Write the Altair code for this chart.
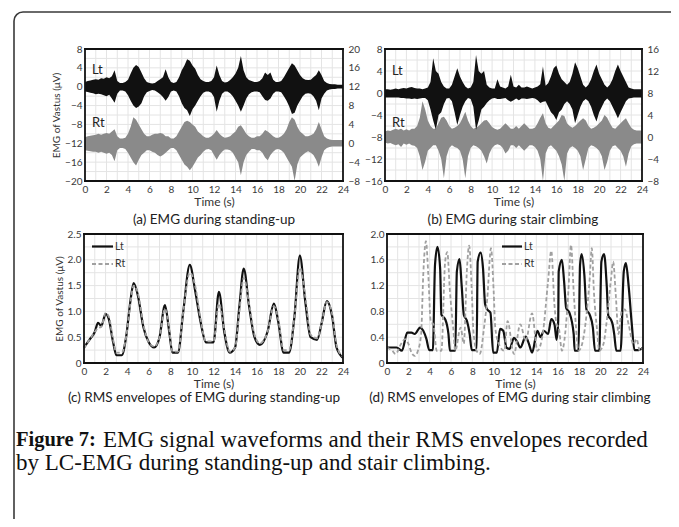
import altair as alt
import pandas as pd

W, H = 663, 511
SANS = "Lato"
SERIF = "Liberation Serif"
GRID = "#e4e4e4"
LT_COLOR = "#111111"
RT_COLOR = "#8a8a8a"

# ---------------- data ----------------
T_RAW = [0, 0.25, 0.5, 0.75, 1, 1.25, 1.5, 1.75, 2, 2.25, 2.5, 2.75,
         3, 3.25, 3.5, 3.75, 4, 4.25, 4.5, 4.75, 5, 5.25, 5.5, 5.75,
         6, 6.25, 6.5, 6.75, 7, 7.25, 7.5, 7.75, 8, 8.25, 8.5, 8.75,
         9, 9.25, 9.5, 9.75, 10, 10.25, 10.5, 10.75, 11, 11.25, 11.5, 11.75,
         12, 12.25, 12.5, 12.75, 13, 13.25, 13.5, 13.75, 14, 14.25, 14.5, 14.75,
         15, 15.25, 15.5, 15.75, 16, 16.25, 16.5, 16.75, 17, 17.25, 17.5, 17.75,
         18, 18.25, 18.5, 18.75, 19, 19.25, 19.5, 19.75, 20, 20.25, 20.5, 20.75,
         21, 21.25, 21.5, 21.75, 22, 22.25, 22.5, 22.75, 23, 23.25, 23.5, 23.75, 24]

# (a) standing-up, raw EMG envelope (left axis, Lt) -- upper / lower
A_LT_HI = [1.0, 1.2, 1.3, 1.5, 1.6, 1.5, 1.8, 1.7, 2.0, 1.8, 2.2, 3.5,
           1.2, 0.8, 0.8, 1.0, 1.5, 2.8, 4.0, 4.6, 4.2, 3.0, 1.8, 1.0,
           0.8, 0.7, 0.8, 1.2, 1.6, 2.0, 3.7, 2.0, 1.0, 0.8, 1.0, 2.0,
           3.5, 4.5, 5.8, 5.5, 4.5, 3.8, 2.5, 1.6, 1.2, 1.0, 1.0, 1.2,
           2.0, 4.5, 2.5, 1.2, 0.9, 1.0, 1.4, 2.0, 2.8, 4.0, 6.5, 3.5,
           2.0, 1.4, 1.2, 1.0, 1.0, 1.2, 1.8, 3.0, 2.5, 3.0, 1.5, 1.0,
           1.0, 1.2, 2.0, 3.0, 4.0, 5.0, 4.5, 3.5, 2.5, 1.8, 1.5, 1.4,
           1.5, 2.0, 2.5, 3.5, 2.5, 1.2, 0.8, 0.6, 0.5, 0.5, 0.4, 0.4, 0.4]
A_LT_LO = [-1.0, -1.1, -1.3, -1.4, -1.6, -1.5, -1.6, -1.8, -2.0, -1.7, -2.5, -3.4,
           -1.5, -0.8, -0.8, -1.0, -1.8, -3.0, -4.0, -4.5, -4.2, -3.5, -2.0, -1.2,
           -0.9, -0.7, -0.8, -1.2, -1.6, -2.2, -3.0, -2.2, -1.0, -0.8, -1.0, -2.0,
           -3.5, -4.5, -5.0, -6.2, -4.8, -4.0, -3.0, -2.0, -1.3, -1.0, -1.0, -1.3,
           -2.2, -5.3, -3.0, -1.5, -1.0, -1.0, -1.4, -2.0, -3.0, -4.0, -5.3, -4.0,
           -2.5, -1.6, -1.2, -1.0, -1.0, -1.2, -2.0, -2.8, -3.0, -2.5, -1.5, -1.0,
           -1.0, -1.2, -2.0, -3.0, -4.2, -5.8, -5.5, -4.0, -3.0, -2.0, -1.5, -1.4,
           -1.5, -2.0, -3.0, -5.0, -2.5, -1.5, -0.8, -0.6, -0.5, -0.5, -0.4, -0.4, -0.4]
# (a) Rt on the right axis
A_RT_HI = [1.3, 1.5, 1.6, 1.7, 1.8, 2.0, 1.8, 2.0, 2.2, 2.0, 2.5, 3.0,
           1.5, 1.0, 1.0, 1.2, 2.0, 3.5, 5.5, 5.0, 4.0, 3.0, 2.0, 1.5,
           1.5, 1.8, 2.0, 2.0, 2.2, 2.0, 1.5, 1.5, 1.0, 1.0, 1.5, 2.5,
           3.5, 4.5, 4.8, 4.5, 4.0, 3.5, 2.5, 2.0, 1.5, 1.2, 1.2, 1.5,
           2.0, 2.8, 2.0, 1.5, 1.2, 1.3, 1.5, 2.0, 2.5, 3.5, 3.8, 3.0,
           2.0, 1.5, 1.2, 1.2, 1.5, 1.5, 2.0, 2.8, 2.5, 2.0, 1.5, 1.2,
           1.2, 1.5, 2.0, 3.0, 4.5, 5.5, 5.0, 3.5, 2.5, 2.0, 1.5, 1.5,
           1.7, 2.0, 3.0, 4.5, 3.0, 1.5, 1.0, 0.8, 0.7, 0.7, 0.7, 0.7, 0.7]
A_RT_LO = [-1.5, -1.6, -1.7, -1.8, -1.8, -2.0, -1.8, -2.0, -2.2, -2.0, -2.5, -3.8,
           -1.5, -1.0, -1.0, -1.2, -2.0, -3.0, -4.0, -4.7, -3.5, -2.5, -2.0, -1.5,
           -1.5, -1.8, -2.0, -2.5, -2.8, -2.5, -2.0, -1.5, -1.0, -1.0, -1.5, -2.5,
           -3.5, -4.5, -5.0, -5.7, -5.0, -4.0, -3.0, -2.5, -1.8, -1.3, -1.2, -1.5,
           -2.5, -3.5, -2.5, -1.8, -1.3, -1.3, -1.5, -2.0, -3.0, -4.0, -6.8, -4.0,
           -2.5, -1.8, -1.2, -1.2, -1.5, -1.5, -2.0, -3.0, -3.6, -2.5, -1.8, -1.3,
           -1.2, -1.5, -2.0, -3.0, -4.0, -5.0, -8.0, -4.5, -3.0, -2.5, -2.0, -1.7,
           -2.0, -2.5, -3.5, -5.0, -3.0, -1.5, -1.0, -0.8, -0.7, -0.7, -0.7, -0.7, -0.7]

# (b) stair climbing, raw EMG envelope
B_LT_HI = [0.7, 0.7, 0.6, 0.7, 0.8, 0.7, 0.8, 0.9, 0.8, 1.0, 1.1, 0.9,
           0.8, 0.8, 0.7, 0.8, 1.0, 2.0, 6.3, 4.0, 3.5, 2.0, 1.2, 0.8,
           0.8, 1.5, 3.0, 4.5, 3.0, 2.0, 1.2, 0.8, 1.0, 2.0, 6.9, 4.0,
           3.5, 4.0, 1.5, 1.0, 0.8, 0.8, 2.5, 1.2, 1.0, 0.8, 1.2, 3.3,
           1.2, 1.0, 1.5, 1.0, 1.0, 1.2, 1.0, 0.8, 1.0, 1.2, 1.6, 4.8,
           1.3, 1.8, 3.0, 4.5, 5.0, 3.5, 2.5, 2.0, 1.5, 2.0, 3.5, 5.6,
           4.5, 3.0, 1.5, 1.0, 1.5, 2.5, 4.0, 5.2, 3.5, 2.5, 1.5, 1.0,
           1.5, 2.5, 4.0, 5.2, 4.0, 3.0, 2.0, 1.0, 0.8, 0.7, 0.7, 0.7, 0.7]
B_LT_LO = [-0.8, -0.8, -0.8, -0.8, -0.8, -0.8, -0.9, -0.9, -1.0, -1.0, -1.1, -1.0,
           -1.1, -1.0, -0.9, -0.9, -1.3, -3.0, -5.0, -6.7, -4.0, -3.5, -2.0, -1.0,
           -0.9, -1.5, -3.5, -5.8, -4.0, -2.5, -1.5, -0.9, -1.1, -2.5, -6.7, -5.0,
           -3.0, -2.5, -1.8, -1.3, -1.0, -0.9, -1.1, -1.1, -1.0, -0.9, -1.3, -1.6,
           -1.3, -1.0, -1.3, -1.0, -1.0, -1.1, -1.0, -0.9, -1.0, -1.3, -1.8, -1.6,
           -1.5, -2.5, -3.5, -4.0, -4.9, -3.5, -3.0, -2.0, -1.5, -2.0, -3.0, -5.5,
           -4.0, -2.5, -1.5, -1.1, -1.5, -2.5, -4.0, -5.2, -3.5, -2.5, -1.5, -1.0,
           -1.5, -2.5, -3.5, -4.6, -3.5, -2.5, -1.5, -1.0, -0.9, -0.8, -0.8, -0.8, -0.8]
B_RT_HI = [1.0, 1.2, 1.1, 1.3, 1.5, 1.3, 1.5, 1.2, 1.4, 1.2, 1.5, 1.5,
           2.0, 3.5, 6.5, 5.0, 3.0, 2.0, 1.5, 1.5, 2.5, 3.5, 3.7, 3.0,
           2.0, 1.5, 1.7, 2.0, 2.5, 3.5, 4.6, 3.0, 2.0, 1.5, 1.7, 2.0,
           2.5, 3.0, 3.1, 2.5, 1.8, 1.5, 1.3, 1.5, 2.0, 2.5, 2.0, 1.5,
           1.5, 2.0, 1.5, 2.0, 2.5, 2.0, 1.5, 1.5, 1.7, 2.5, 3.5, 4.3,
           2.5, 1.7, 1.5, 2.0, 2.5, 3.0, 4.0, 3.8, 2.5, 2.0, 1.7, 2.0,
           2.5, 3.0, 3.4, 3.0, 2.0, 1.5, 1.7, 2.0, 2.5, 3.0, 4.0, 3.5,
           2.5, 1.7, 1.5, 2.0, 2.5, 3.0, 3.4, 2.5, 1.7, 1.3, 1.2, 1.2, 1.2]
B_RT_LO = [-1.0, -1.2, -1.1, -1.3, -1.5, -1.3, -1.8, -1.2, -1.4, -1.2, -1.5, -1.6,
           -2.0, -3.5, -6.0, -4.5, -2.5, -2.0, -1.5, -1.5, -2.5, -4.0, -7.5, -3.5,
           -2.0, -1.5, -1.8, -2.0, -2.5, -4.0, -7.5, -3.5, -2.0, -1.5, -1.7, -2.0,
           -2.5, -3.5, -4.8, -3.0, -2.0, -1.5, -1.3, -1.5, -2.0, -3.0, -2.5, -1.5,
           -1.5, -2.0, -1.5, -2.0, -2.5, -2.0, -1.5, -1.5, -1.8, -2.5, -4.0, -8.0,
           -3.0, -1.8, -1.5, -2.0, -2.5, -3.5, -5.0, -8.0, -3.0, -2.0, -1.7, -2.0,
           -2.5, -3.5, -6.0, -4.0, -2.0, -1.5, -1.7, -2.0, -2.5, -3.5, -6.0, -4.5,
           -2.5, -1.7, -1.5, -2.0, -2.5, -3.5, -5.4, -3.0, -1.7, -1.3, -1.2, -1.2, -1.2]

# (c) RMS envelopes, standing-up
T_C = [0, 0.5, 1, 1.3, 1.6, 2, 2.3, 2.7, 3, 3.5, 3.9, 4.3, 4.6, 5, 5.5, 6, 6.5, 7, 7.5, 7.9,
       8.2, 8.7, 9.2, 9.8, 10.3, 10.8, 11.3, 12, 12.5, 13, 13.5, 14, 14.4, 14.8, 15.3, 15.8,
       16.3, 17, 17.6, 18, 18.5, 19, 19.5, 20, 20.5, 21, 21.6, 22, 22.5, 23, 23.4, 24]
C_LT = [0.3, 0.45, 0.6, 0.78, 0.72, 0.95, 0.85, 0.4, 0.15, 0.15, 0.5, 1.2, 1.55, 1.3, 0.7,
        0.4, 0.3, 0.5, 1.12, 0.6, 0.2, 0.2, 1.0, 1.9, 1.4, 0.8, 0.4, 0.4, 1.38, 0.6, 0.2,
        0.3, 1.1, 1.83, 1.1, 0.5, 0.35, 0.6, 1.15, 0.8, 0.2, 0.2, 0.9, 2.08, 1.2, 0.5, 0.45,
        0.75, 1.2, 0.9, 0.3, 0.1]
C_RT = [0.28, 0.45, 0.6, 0.68, 0.7, 0.97, 0.9, 0.45, 0.2, 0.2, 0.5, 1.15, 1.5, 1.35, 0.75,
        0.4, 0.32, 0.5, 1.05, 0.65, 0.22, 0.22, 1.0, 1.75, 1.5, 0.85, 0.42, 0.42, 1.15, 0.65,
        0.22, 0.3, 1.0, 1.65, 1.15, 0.55, 0.38, 0.6, 1.1, 0.85, 0.25, 0.25, 0.9, 1.85, 1.3,
        0.55, 0.48, 0.75, 1.18, 0.95, 0.35, 0.12]

# (d) RMS envelopes, stair climbing
T_D_LT = [0, 0.9, 1.4, 1.9, 2.3, 2.6, 3.1, 3.4, 3.7, 3.96, 4.3, 4.5, 4.73, 4.98, 5.1, 5.45,
          5.76, 5.9, 6.4, 6.55, 6.8, 7.0, 7.2, 7.5, 7.75, 7.95, 8.4, 8.5, 8.78, 9.0, 9.2, 9.4,
          9.7, 9.95, 10.3, 10.6, 10.9, 11.2, 11.5, 11.9, 12.2, 12.5, 13.0, 13.3, 13.6, 14.1,
          14.4, 14.7, 15.1, 15.4, 15.7, 15.9, 16.05, 16.1, 16.4, 16.6, 16.8, 17.1, 17.5, 17.6,
          17.95, 18.1, 18.25, 18.5, 18.7, 19.0, 19.3, 19.5, 19.9, 20.1, 20.35, 20.6, 20.75,
          20.97, 21.15, 21.3, 21.5, 21.9, 22.2, 22.4, 22.65, 22.95, 23.2, 23.6, 24]
D_LT = [0.24, 0.24, 0.19, 0.47, 0.47, 0.45, 0.55, 0.5, 0.37, 0.2, 0.2, 1.52, 1.8, 1.47, 0.75,
        0.68, 0.45, 0.19, 0.19, 1.42, 1.61, 1.2, 0.75, 0.65, 0.45, 0.2, 0.2, 1.57, 1.71, 1.47,
        0.91, 0.83, 0.78, 0.16, 0.16, 0.53, 0.5, 0.24, 0.22, 0.39, 0.33, 0.24, 0.41, 0.3, 0.16,
        0.5, 0.4, 0.5, 0.45, 0.68, 0.6, 0.36, 0.65, 1.42, 1.6, 1.27, 0.85, 0.78, 0.45, 0.19,
        0.19, 1.52, 1.69, 1.37, 0.83, 0.75, 0.55, 0.19, 0.19, 1.57, 1.69, 1.2, 0.73, 0.68, 0.6,
        0.45, 0.19, 0.19, 1.42, 1.55, 1.2, 0.6, 0.2, 0.2, 0.24]
T_D_RT = [0, 0.5, 0.8, 1.3, 1.7, 2.0, 2.3, 2.6, 2.9, 3.2, 3.4, 3.65, 3.87, 4.1, 4.35, 4.66,
          5.1, 5.45, 5.65, 5.9, 6.2, 6.4, 6.9, 7.2, 7.5, 7.7, 7.95, 8.1, 8.4, 8.7, 9.1, 9.4,
          9.75, 10.0, 10.15, 10.5, 11.0, 11.3, 11.9, 12.5, 13.0, 13.6, 14.1, 14.6, 15.1, 15.4,
          15.7, 15.9, 16.1, 16.4, 16.7, 17.0, 17.25, 17.5, 17.7, 17.95, 18.3, 18.6, 19.0, 19.2,
          19.4, 19.7, 19.9, 20.3, 20.6, 21.0, 21.2, 21.45, 21.7, 22.0, 22.3, 22.65, 23.1, 23.4,
          23.7, 24]
D_RT = [0.24, 0.19, 0.14, 0.29, 0.37, 0.3, 0.16, 0.11, 0.19, 0.45, 1.37, 1.89, 1.37, 0.65,
        0.6, 0.19, 0.19, 1.57, 1.72, 1.11, 0.55, 0.19, 0.55, 0.3, 1.47, 1.82, 1.11, 0.5, 0.19,
        0.14, 0.55, 1.0, 1.78, 1.11, 0.55, 0.29, 0.19, 0.65, 0.14, 0.6, 0.34, 0.77, 0.19, 0.45,
        1.27, 1.74, 0.9, 0.6, 0.55, 0.19, 0.45, 1.1, 1.83, 1.11, 0.6, 0.19, 0.3, 0.6, 1.3, 1.78,
        1.1, 0.5, 0.19, 0.3, 0.65, 1.3, 1.57, 1.05, 0.45, 0.8, 0.83, 0.6, 0.29, 0.37, 0.19, 0.24]

# tick values / grid
X_TICKS = [0, 2, 4, 6, 8, 10, 12, 14, 16, 18, 20, 22, 24]
X_GRID = [1, 2, 3, 4, 5, 6, 7, 8, 9, 10, 11, 12, 13, 14, 15, 16, 17, 18, 19, 20, 21, 22, 23]
A_LEFT_TICKS = [-20, -16, -12, -8, -4, 0, 4, 8]
A_RIGHT_TICKS = [-8, -4, 0, 4, 8, 12, 16, 20]
A_GRID = [-18, -16, -14, -12, -10, -8, -6, -4, -2, 0, 2, 4, 6]
B_LEFT_TICKS = [-16, -12, -8, -4, 0, 4, 8]
B_RIGHT_TICKS = [-8, -4, 0, 4, 8, 12, 16]
B_GRID = [-14, -12, -10, -8, -6, -4, -2, 0, 2, 4, 6]
C_TICKS = [0, 0.5, 1.0, 1.5, 2.0, 2.5]
C_GRID = [0.25, 0.5, 0.75, 1.0, 1.25, 1.5, 1.75, 2.0, 2.25]
D_TICKS = [0, 0.4, 0.8, 1.2, 1.6, 2.0]
D_GRID = [0.2, 0.4, 0.6, 0.8, 1.0, 1.2, 1.4, 1.6, 1.8]

Y_TITLE = "EMG of Vastus (\u03bcV)"
ONE_DEC = "datum.value == 0 ? '0' : format(datum.value, '.1f')"

# panel placement (pixels inside the chart)
PA = dict(xr=[77, 335], yr=[173, 41])
PB = dict(xr=[377, 634], yr=[173, 41])
PC = dict(xr=[76, 335], yr=[355, 226])
PD = dict(xr=[379, 635], yr=[355, 226])


def xscale(p):
    return alt.Scale(domain=[0, 24], range=p["xr"], nice=False, zero=False)


def yscale(p, dom):
    return alt.Scale(domain=dom, range=p["yr"], nice=False, zero=False)


def x_axis(p):
    return alt.Axis(orient="bottom", offset=p["yr"][0] - H, values=X_TICKS,
                    title="Time (s)", grid=False, domain=False, ticks=False,
                    labelFlush=False, labelOverlap=False, labelFont=SANS,
                    labelFontSize=10, labelColor="#3a3a3a", labelPadding=3,
                    titleFont=SANS, titleFontSize=12, titleFontWeight="normal",
                    titleColor="#333", titlePadding=2)


def y_axis(p, values, title=None, right=False, expr=None):
    kw = dict(values=values, grid=False, domain=False, ticks=False,
              labelFlush=False, labelOverlap=False, labelFont=SANS,
              labelFontSize=10, labelColor="#3a3a3a", labelPadding=3)
    if right:
        kw.update(orient="right", offset=p["xr"][1] - W, labelPadding=5)
    else:
        kw.update(orient="left", offset=-p["xr"][0])
    if title:
        kw.update(title=title, titleFont=SANS, titleFontSize=10,
                  titleFontWeight="normal", titleColor="#333", titlePadding=3)
    else:
        kw.update(title="")
    if expr:
        kw.update(labelExpr=expr)
    return alt.Axis(**kw)


def grid_and_frame(p, ydom, ygrid, yax):
    xs, ys = xscale(p), yscale(p, ydom)
    vdf = pd.DataFrame({"g": X_GRID, "lo": ydom[0], "hi": ydom[1]})
    hdf = pd.DataFrame({"g": ygrid, "lo": 0, "hi": 24})
    vgrid = alt.Chart(vdf).mark_rule(color=GRID, strokeWidth=1).encode(
        x=alt.X("g:Q", scale=xs, axis=None),
        y=alt.Y("lo:Q", scale=ys, axis=None), y2="hi:Q")
    hgrid = alt.Chart(hdf).mark_rule(color=GRID, strokeWidth=1).encode(
        y=alt.Y("g:Q", scale=ys, axis=None),
        x=alt.X("lo:Q", scale=xs, axis=None), x2="hi:Q")
    # frame: four edges drawn as rules through the panel scales
    edges = pd.DataFrame({"x0": [0, 0, 0, 24], "x1": [24, 24, 0, 24],
                          "y0": [ydom[0], ydom[1], ydom[0], ydom[0]],
                          "y1": [ydom[0], ydom[1], ydom[1], ydom[1]]})
    frame = alt.Chart(edges).mark_rule(color="#111", strokeWidth=1.8, strokeCap="square").encode(
        x=alt.X("x0:Q", scale=xs, axis=x_axis(p)), x2="x1:Q",
        y=alt.Y("y0:Q", scale=ys, axis=yax), y2="y1:Q")
    return xs, ys, [vgrid, hgrid], frame


def band(xs, ys, t, hi, lo, color, yax=None):
    df = pd.DataFrame({"t": t, "hi": hi, "lo": lo})
    return alt.Chart(df).mark_area(color=color, opacity=1, interpolate="linear").encode(
        x=alt.X("t:Q", scale=xs, axis=None),
        y=alt.Y("hi:Q", scale=ys, axis=yax), y2="lo:Q")


def raw_panel(p, ldom, rdom, lticks, rticks, grid, lt_hi, lt_lo, rt_hi, rt_lo, title):
    xs, ys, grids, frame = grid_and_frame(p, ldom, grid, y_axis(p, lticks, title=title))
    lt = band(xs, ys, T_RAW, lt_hi, lt_lo, LT_COLOR)
    rt = band(xs, yscale(p, rdom), T_RAW, rt_hi, rt_lo, RT_COLOR,
              yax=y_axis(p, rticks, right=True))
    return grids + [rt, lt, frame]


def rms_panel(p, ydom, ticks, grid, t_lt, lt, t_rt, rt, title):
    xs, ys, grids, frame = grid_and_frame(p, ydom, grid,
                                          y_axis(p, ticks, title=title, expr=ONE_DEC))
    dl = pd.DataFrame({"t": t_lt, "v": lt})
    dr = pd.DataFrame({"t": t_rt, "v": rt})
    rt_line = alt.Chart(dr).mark_line(color="#a0a0a0", strokeWidth=1.8, strokeDash=[4, 2.5],
                                      interpolate="monotone").encode(
        x=alt.X("t:Q", scale=xs, axis=None), y=alt.Y("v:Q", scale=ys, axis=None))
    lt_line = alt.Chart(dl).mark_line(color="#111", strokeWidth=2.2,
                                      interpolate="monotone").encode(
        x=alt.X("t:Q", scale=xs, axis=None), y=alt.Y("v:Q", scale=ys, axis=None))
    return grids + [lt_line, rt_line, frame]


layers_a = raw_panel(PA, [-20, 8], [-8, 20], A_LEFT_TICKS, A_RIGHT_TICKS, A_GRID,
                     A_LT_HI, A_LT_LO, A_RT_HI, A_RT_LO, Y_TITLE)
layers_b = raw_panel(PB, [-16, 8], [-8, 16], B_LEFT_TICKS, B_RIGHT_TICKS, B_GRID,
                     B_LT_HI, B_LT_LO, B_RT_HI, B_RT_LO, None)
layers_c = rms_panel(PC, [0, 2.5], C_TICKS, C_GRID, T_C, C_LT, T_C, C_RT, Y_TITLE)
layers_d = rms_panel(PD, [0, 2.0], D_TICKS, D_GRID, T_D_LT, D_LT, T_D_RT, D_RT, None)

one = pd.DataFrame({"k": [0]})


def label(text, x, y, size=12, font=SANS, weight="normal", color="#222", align="left"):
    return alt.Chart(one).mark_text(font=font, fontSize=size, fontWeight=weight,
                                    color=color, align=align, baseline="middle").encode(
        x=alt.value(x), y=alt.value(y), text=alt.value(text))


def legend_line(x0, x1, y, dashed):
    kw = dict(color="#a0a0a0", strokeWidth=1.8, strokeDash=[4, 2.5]) if dashed else \
        dict(color="#111", strokeWidth=2.2)
    return alt.Chart(one).mark_rule(**kw).encode(
        x=alt.value(x0), x2=alt.value(x1), y=alt.value(y))


box = alt.Chart(one).mark_rect(filled=False, color="#3a3a3a", strokeWidth=1.6,
                               cornerRadius=9).encode(
    x=alt.value(6), x2=alt.value(W + 60), y=alt.value(4), y2=alt.value(H + 60))

texts = [
    label("Lt", 84, 62, 13), label("Rt", 84, 115, 13),
    label("Lt", 384, 63, 13), label("Rt", 384, 115, 13),
    label("(a) EMG during standing-up", 206, 212, 13.5, align="center"),
    label("(b) EMG during stair climbing", 505, 212, 13.5, align="center"),
    label("(c) RMS envelopes of EMG during standing-up", 196, 390, 13.5, align="center"),
    label("(d) RMS envelopes of EMG during stair climbing", 502, 390, 13.5, align="center"),
    legend_line(84, 105, 238.5, False), legend_line(84, 105, 256, True),
    label("Lt", 107, 238.5, 10.5, color="#333"), label("Rt", 107, 256, 10.5, color="#333"),
    legend_line(494, 514, 238.5, False), legend_line(494, 514, 256, True),
    label("Lt", 516, 238.5, 10.5, color="#333"), label("Rt", 516, 256, 10.5, color="#333"),
    label("Figure 7:", 8, 432, 20.5, font=SERIF, weight="bold", color="#111"),
    label("EMG signal waveforms and their RMS envelopes recorded", 95, 432, 23,
          font=SERIF, color="#111"),
    label("by LC-EMG during standing-up and stair climbing.", 8, 455, 23,
          font=SERIF, color="#111"),
]

chart = alt.layer(box, *layers_a, *layers_b, *layers_c, *layers_d, *texts).resolve_scale(
    x="independent", y="independent"
).properties(
    width=W, height=H, autosize=alt.AutoSizeParams(type="none"), padding=0,
    background="white"
).configure_view(strokeWidth=0)

chart.save("out.html", embed_options={"renderer": "svg", "actions": False})
